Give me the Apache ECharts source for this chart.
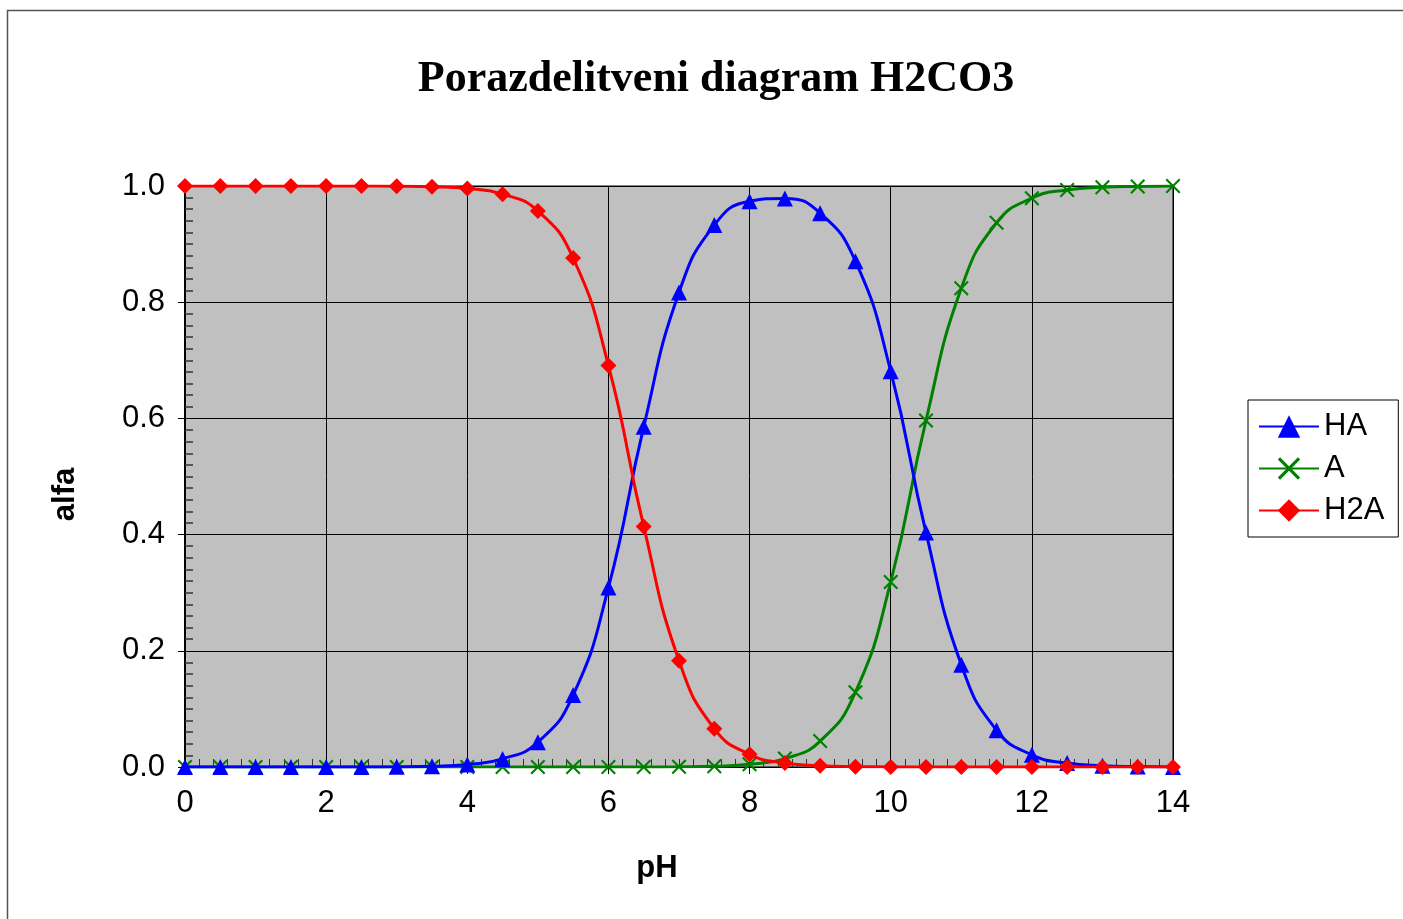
<!DOCTYPE html>
<html>
<head>
<meta charset="utf-8">
<script src="https://cdn.jsdelivr.net/npm/echarts@6/dist/echarts.min.js"></script>
<style>html,body{margin:0;padding:0;background:#fff}#c{width:1403px;height:919px}</style>
</head>
<body>
<div id="c"></div>
<script>
const pH = [0,0.5,1,1.5,2,2.5,3,3.5,4,4.5,5,5.5,6,6.5,7,7.5,8,8.5,9,9.5,10,10.5,11,11.5,12,12.5,13,13.5,14];
const HA = [0,0,0,0,0,0.0001,0.0004,0.0014,0.0045,0.0139,0.0428,0.1238,0.3088,0.5855,0.8167,0.9327,0.9736,0.9786,0.9532,0.8706,0.6812,0.4034,0.1761,0.0633,0.0209,0.0067,0.0021,0.0007,0.0002];
const A = [0,0,0,0,0,0,0,0,0,0,0,0,0,0.0001,0.0004,0.0014,0.0046,0.0145,0.0446,0.1288,0.3186,0.5966,0.8239,0.9367,0.9791,0.9933,0.9979,0.9993,0.9998];
const H2A = [1,1,1,1,1,0.9999,0.9996,0.9986,0.9955,0.986,0.957,0.876,0.691,0.414,0.183,0.066,0.0218,0.0069,0.0021,0.0006,0.0002,0,0,0,0,0,0,0,0];
const seriesNames = ['HA','A','H2A'];
const titleText = 'Porazdelitveni diagram H2CO3';
const xName = 'pH', yName = 'alfa';

const pairs = arr => pH.map((x,i)=>[x,arr[i]]);
const xSym = 'path://M0,1 L1,0 L5,4 L9,0 L10,1 L6,5 L10,9 L9,10 L5,6 L1,10 L0,9 L4,5 Z';

const chart = echarts.init(document.getElementById('c'));
chart.setOption({
  animation:false,
  backgroundColor:'#fff',
  title:{text:titleText,left:711,top:53,textAlign:'center',
    textStyle:{fontFamily:'Liberation Serif',fontWeight:'bold',fontSize:44,color:'#000'}},
  graphic:[{type:'rect',shape:{x:7.5,y:10.5,width:1420,height:940},
    style:{fill:'none',stroke:'#555',lineWidth:1.5},silent:true}],
  legend:{orient:'vertical',left:1248,top:400,padding:[11,14,11,10],
    itemWidth:60,itemHeight:28,itemGap:11,
    borderColor:'#000',borderWidth:1,backgroundColor:'#fff',
    textStyle:{fontFamily:'Liberation Sans',fontSize:31,color:'#000',lineHeight:30},
    data:seriesNames},
  grid:{left:185,right:230,top:186,bottom:152,show:true,backgroundColor:'#c0c0c0',borderColor:'#000',borderWidth:1},
  xAxis:{type:'value',min:0,max:14,interval:2,
    name:xName,nameLocation:'middle',nameGap:86,
    nameTextStyle:{fontFamily:'Liberation Sans',fontWeight:'bold',fontSize:31,color:'#000',padding:[0,44,0,0]},
    axisLine:{lineStyle:{color:'#000',width:1}},
    axisTick:{show:true,length:7,lineStyle:{color:'#000'}},
    minorTick:{show:true,splitNumber:10,length:-8,lineStyle:{color:'#333',width:1}},
    axisLabel:{margin:21,fontFamily:'Liberation Sans',fontSize:31,color:'#000'},
    splitLine:{show:true,lineStyle:{color:'#000',width:1}}},
  yAxis:{type:'value',min:0,max:1,interval:0.2,
    name:yName,nameLocation:'middle',nameGap:104,nameRotate:90,
    nameTextStyle:{fontFamily:'Liberation Sans',fontWeight:'bold',fontSize:31,color:'#000',padding:[0,36,0,0]},
    axisLine:{show:true,lineStyle:{color:'#000',width:2}},
    axisTick:{show:true,length:7,lineStyle:{color:'#000'}},
    minorTick:{show:true,splitNumber:10,length:-8,lineStyle:{color:'#333',width:1.5}},
    axisLabel:{margin:20,fontFamily:'Liberation Sans',fontSize:31,color:'#000',formatter:v=>v.toFixed(1)},
    splitLine:{show:true,lineStyle:{color:'#000',width:1}}},
  series:[
    {name:'HA',type:'line',data:pairs(HA),smooth:true,symbol:'triangle',symbolSize:16,z:3,
      itemStyle:{color:'#0000ff'},lineStyle:{color:'#0000ff',width:3}},
    {name:'A',type:'line',data:pairs(A),smooth:true,symbol:xSym,symbolSize:15,z:2,
      itemStyle:{color:'#008000'},lineStyle:{color:'#008000',width:3}},
    {name:'H2A',type:'line',data:pairs(H2A),smooth:true,symbol:'diamond',symbolSize:16,z:4,
      itemStyle:{color:'#ff0000'},lineStyle:{color:'#ff0000',width:3}}
  ]
});
</script>
</body>
</html>
